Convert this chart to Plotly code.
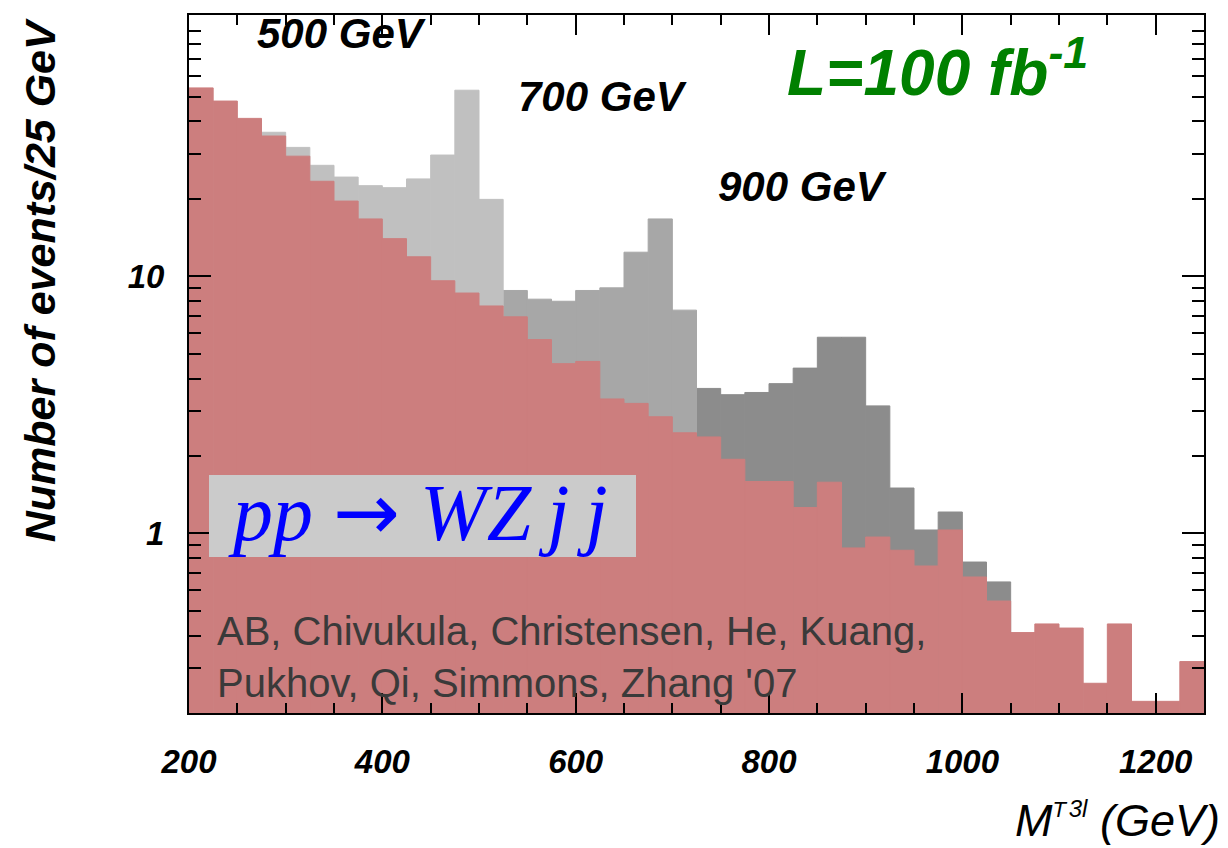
import plotly.graph_objects as go

# ---- data ----
bin_width = 25
bin_start = list(range(200, 1250, 25))  # 42 bins of 25 GeV

background = [54.0, 48.0, 41.1, 35.1, 29.3, 23.4, 19.6, 16.7, 14.0, 11.9,
              9.6, 8.6, 7.66, 6.95, 5.67, 4.57, 4.66, 3.33, 3.20, 2.84,
              2.46, 2.37, 1.94, 1.59, 1.59, 1.26, 1.58, 0.877, 0.967, 0.859,
              0.746, 1.03, 0.676, 0.545, 0.411, 0.444, 0.428, 0.261, 0.444, 0.222,
              0.222, 0.317]

sig500_bins = [275, 300, 325, 350, 375, 400, 425, 450, 475, 500]
sig500_total = [36.3, 31.7, 27.0, 24.3, 22.5, 22.1, 23.9, 29.6, 52.9, 19.9]

sig700_bins = [525, 550, 575, 600, 625, 650, 675, 700]
sig700_total = [8.80, 8.14, 7.99, 8.80, 9.01, 12.4, 16.7, 7.38]

sig900_bins = [725, 750, 775, 800, 825, 850, 875, 900, 925, 950, 975, 1000, 1025]
sig900_total = [3.66, 3.46, 3.53, 3.82, 4.39, 5.79, 5.79, 3.13, 1.50, 1.03, 1.21, 0.773, 0.647]

x_tick_vals = [200, 400, 600, 800, 1000, 1200]
y_tick_vals = [1, 10]
y_tick_text = ["1", "10"]
y_minor_vals = [0.2, 0.3, 0.4, 0.5, 0.6, 0.7, 0.8, 0.9,
                2, 3, 4, 5, 6, 7, 8, 9,
                20, 30, 40, 50, 60, 70, 80, 90]

C_BKG = "#CC7E7E"
C_500 = "#C0C0C0"
C_700 = "#A7A7A7"
C_900 = "#8C8C8C"

def hist(bins, vals, color, name):
    return go.Bar(x=bins, y=vals, width=bin_width, offset=0, name=name,
                  marker=dict(color=color, line=dict(width=1, color=color)),
                  showlegend=False)

fig = go.Figure()
fig.add_trace(hist(sig900_bins, sig900_total, C_900, "900 GeV"))
fig.add_trace(hist(sig700_bins, sig700_total, C_700, "700 GeV"))
fig.add_trace(hist(sig500_bins, sig500_total, C_500, "500 GeV"))
fig.add_trace(hist(bin_start, background, C_BKG, "background"))

FONT = "Liberation Sans, Arial, sans-serif"
SERIF = "Liberation Serif, Times New Roman, serif"

fig.update_layout(
    width=1228, height=848,
    margin=dict(l=189, r=24, t=15, b=135),
    paper_bgcolor="white", plot_bgcolor="white",
    barmode="overlay",
    xaxis=dict(range=[200, 1250], tickmode="array", tickvals=x_tick_vals,
               ticks="inside", ticklen=20, tickwidth=2, tickcolor="black",
               showline=True, linecolor="black", linewidth=2, mirror="allticks",
               showgrid=False, zeroline=False,
               tickfont=dict(family=FONT, size=33, color="black", style="italic", weight="bold"),
               ticklabelstandoff=18,
               minor=dict(tickmode="linear", tick0=200, dtick=50, ticks="inside",
                          ticklen=10, tickwidth=2, tickcolor="black", showgrid=False)),
    yaxis=dict(type="log", range=[-0.699, 2.016], tickmode="array",
               tickvals=y_tick_vals, ticktext=y_tick_text,
               ticks="inside", ticklen=22, tickwidth=2, tickcolor="black",
               showline=True, linecolor="black", linewidth=2, mirror="allticks",
               showgrid=False, zeroline=False,
               tickfont=dict(family=FONT, size=33, color="black", style="italic", weight="bold"),
               ticklabelstandoff=16,
               minor=dict(tickmode="array", tickvals=y_minor_vals, ticks="inside",
                          ticklen=12, tickwidth=2, tickcolor="black", showgrid=False)),
)

def ann(text, x, y, size, color="black", xanchor="center", yanchor="middle",
        family=FONT, bold=True, italic=True, angle=0, **kw):
    fig.add_annotation(text=text, x=x, y=y, xref="paper", yref="paper",
                       xanchor=xanchor, yanchor=yanchor, showarrow=False,
                       textangle=angle,
                       font=dict(family=family, size=size, color=color,
                                 weight="bold" if bold else "normal",
                                 style="italic" if italic else "normal"), **kw)

ann("500 GeV", 0.150, 0.974, 42)
ann("700 GeV", 0.407, 0.883, 42)
ann("900 GeV", 0.604, 0.754, 42)
ann("L=100 fb<sup>-1</sup>", 0.587, 0.924, 64, color="#008000", xanchor="left")

# grey label box behind the process text
fig.add_shape(type="rect", xref="paper", yref="paper",
              x0=(209 - 189) / 1015, x1=(636 - 189) / 1015,
              y0=(713 - 557) / 698, y1=(713 - 475) / 698,
              fillcolor="#CBCBCB", line=dict(width=0), layer="above")
fig.add_annotation(
    text=("<i>pp</i>\u00a0<span style='font-family:DejaVu Sans'>\u2192</span>\u00a0"
          "<i>WZ\u2009j\u2009j</i>"),
    x=(418 - 189) / 1015, y=(713 - 512) / 698, xref="paper", yref="paper", showarrow=False,
    xanchor="center", yanchor="middle",
    font=dict(family=SERIF, size=80, color="#0000FF"))

fig.add_annotation(text="AB, Chivukula, Christensen, He, Kuang,<br>Pukhov, Qi, Simmons, Zhang '07",
                   x=0.0256, y=0.080, xref="paper", yref="paper", showarrow=False,
                   xanchor="left", yanchor="middle", align="left",
                   font=dict(family=FONT, size=40, color="#3A3A3A"))

ann("Number of events/25 GeV", -0.1468, 0.620, 43, angle=-90)
ann("M<sup><span style='font-size:22px'>T</span></sup>"
    "<span style='font-size:10px'> </span>"
    "<sup><span style='font-size:24px'>3l</span></sup> (GeV)",
    1.0177, -0.194, 45, bold=False, xanchor="right", yanchor="bottom")

fig.write_html("out.html")
